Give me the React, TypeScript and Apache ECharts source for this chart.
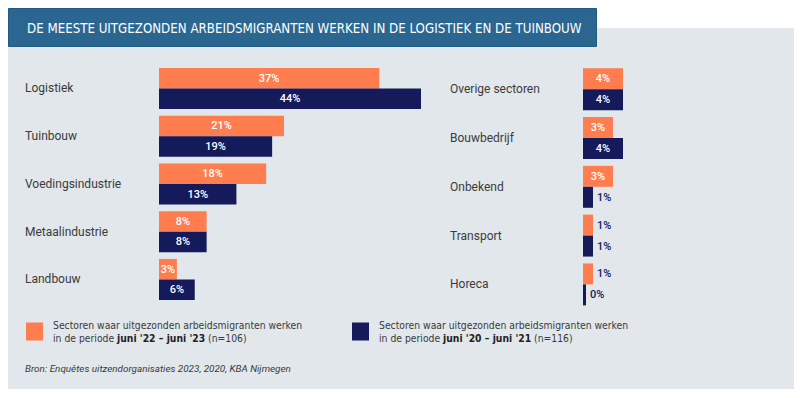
import React, { useEffect, useRef } from "react";
import * as echarts from "echarts";

const leftCategories = ["Logistiek", "Tuinbouw", "Voedingsindustrie", "Metaalindustrie", "Landbouw"];
const left2223 = [37, 21, 18, 8, 3];
const left2021 = [44, 19, 13, 8, 6];

const rightCategories = ["Overige sectoren", "Bouwbedrijf", "Onbekend", "Transport", "Horeca"];
const right2223 = [4, 3, 3, 1, 1];
const right2021 = [4, 4, 1, 1, 0];

const seriesNames = ["2022-2023", "2020-2021"];
const legendTexts = [
  "Sectoren waar uitgezonden arbeidsmigranten werken\nin de periode {b|juni '22 – juni '23} (n=106)",
  "Sectoren waar uitgezonden arbeidsmigranten werken\nin de periode {b|juni '20 – juni '21} (n=116)",
];
const titleText = "DE MEESTE UITGEZONDEN ARBEIDSMIGRANTEN WERKEN IN DE LOGISTIEK EN DE TUINBOUW";
const sourceText = "Bron: Enquêtes uitzendorganisaties 2023, 2020, KBA Nijmegen";

const ORANGE = "#ff7d4f";
const NAVY = "#151a5a";
const LABEL_FONT = "Roboto, 'Noto Sans', sans-serif";
const NARROW_FONT = "'Liberation Sans Narrow', 'DejaVu Sans Condensed', 'Roboto Condensed', Roboto, sans-serif";

function toData(values: number[]) {
  return values.map((v) => ({
    value: v,
    label: v <= 1 ? { position: "right", color: NAVY, distance: 4 } : undefined,
  }));
}

function barSeries(name: string, color: string, values: number[], axisIndex: number, minLen = 0) {
  return {
    type: "bar",
    name,
    xAxisIndex: axisIndex,
    yAxisIndex: axisIndex,
    data: toData(values),
    barGap: "0%",
    barCategoryGap: "14%",
    barMinHeight: minLen,
    itemStyle: { color },
    label: {
      show: true,
      position: "inside",
      color: "#ffffff",
      fontFamily: LABEL_FONT,
      fontSize: 11,
      fontWeight: 500,
      formatter: "{c}%",
    },
  };
}

export default function App() {
  const ref = useRef<HTMLDivElement>(null);
  useEffect(() => {
    if (!ref.current) return;
    const chart = echarts.init(ref.current, undefined, { renderer: "svg" });
    const yAxisCommon = (cats: string[], idx: number, margin: number) => ({
      type: "category",
      gridIndex: idx,
      data: cats,
      inverse: true,
      axisLine: { show: false },
      axisTick: { show: false },
      splitLine: { show: false },
      axisLabel: {
        align: "left",
        margin,
        color: "#3b3b3b",
        fontFamily: LABEL_FONT,
        fontSize: 12,
      },
    });
    const xAxisCommon = (idx: number, max: number) => ({
      type: "value",
      gridIndex: idx,
      min: 0,
      max,
      show: false,
    });
    chart.setOption({
      animation: false,
      backgroundColor: "#ffffff",
      grid: [
        { left: 159, top: 64.6, width: 262, height: 238.75 },
        { left: 583, top: 64.8, width: 40, height: 244 },
      ],
      xAxis: [xAxisCommon(0, 44), xAxisCommon(1, 4)],
      yAxis: [yAxisCommon(leftCategories, 0, 134), yAxisCommon(rightCategories, 1, 133)],
      legend: [0, 1].map((i) => ({
        left: i === 0 ? 26 : 352,
        top: 318,
        padding: 0,
        data: [seriesNames[i]],
        icon: "rect",
        itemWidth: 17,
        itemHeight: 18,
        itemGap: 10,
        selectedMode: false,
        formatter: () => legendTexts[i],
        textStyle: {
          fontFamily: NARROW_FONT,
          fontSize: 10.3,
          lineHeight: 13.5,
          color: "#3a3a3a",
          padding: [0, 0, 0, 5],
          rich: {
            b: { fontFamily: NARROW_FONT, fontSize: 10.3, lineHeight: 13.5, fontWeight: "bold", color: "#222222" },
          },
        },
      })),
      graphic: [
        {
          type: "rect",
          z: -10,
          silent: true,
          shape: { x: 8, y: 28, width: 786, height: 361 },
          style: { fill: "#e1e7eb" },
        },
        {
          type: "rect",
          z: -5,
          silent: true,
          shape: { x: 8.5, y: 8.5, width: 588, height: 38 },
          style: { fill: "#2a6690", stroke: "#1f5a80", lineWidth: 1 },
        },
        {
          type: "text",
          z: -4,
          silent: true,
          x: 27,
          y: 28,
          style: {
            text: titleText,
            fill: "#ffffff",
            font: `13.2px ${NARROW_FONT}`,
            verticalAlign: "middle",
          },
        },
        {
          type: "text",
          z: -4,
          silent: true,
          x: 25,
          y: 368,
          style: {
            text: sourceText,
            fill: "#3a3a3a",
            font: `italic 9.9px ${LABEL_FONT}`,
            verticalAlign: "middle",
          },
        },
      ],
      series: [
        barSeries(seriesNames[0], ORANGE, left2223, 0),
        barSeries(seriesNames[1], NAVY, left2021, 0),
        barSeries(seriesNames[0], ORANGE, right2223, 1),
        barSeries(seriesNames[1], NAVY, right2021, 1, 3),
      ],
    });
    return () => chart.dispose();
  }, []);
  return (
    <div
      ref={ref}
      style={{ position: "fixed", left: 0, top: 0, width: 800, height: 398 }}
    />
  );
}
